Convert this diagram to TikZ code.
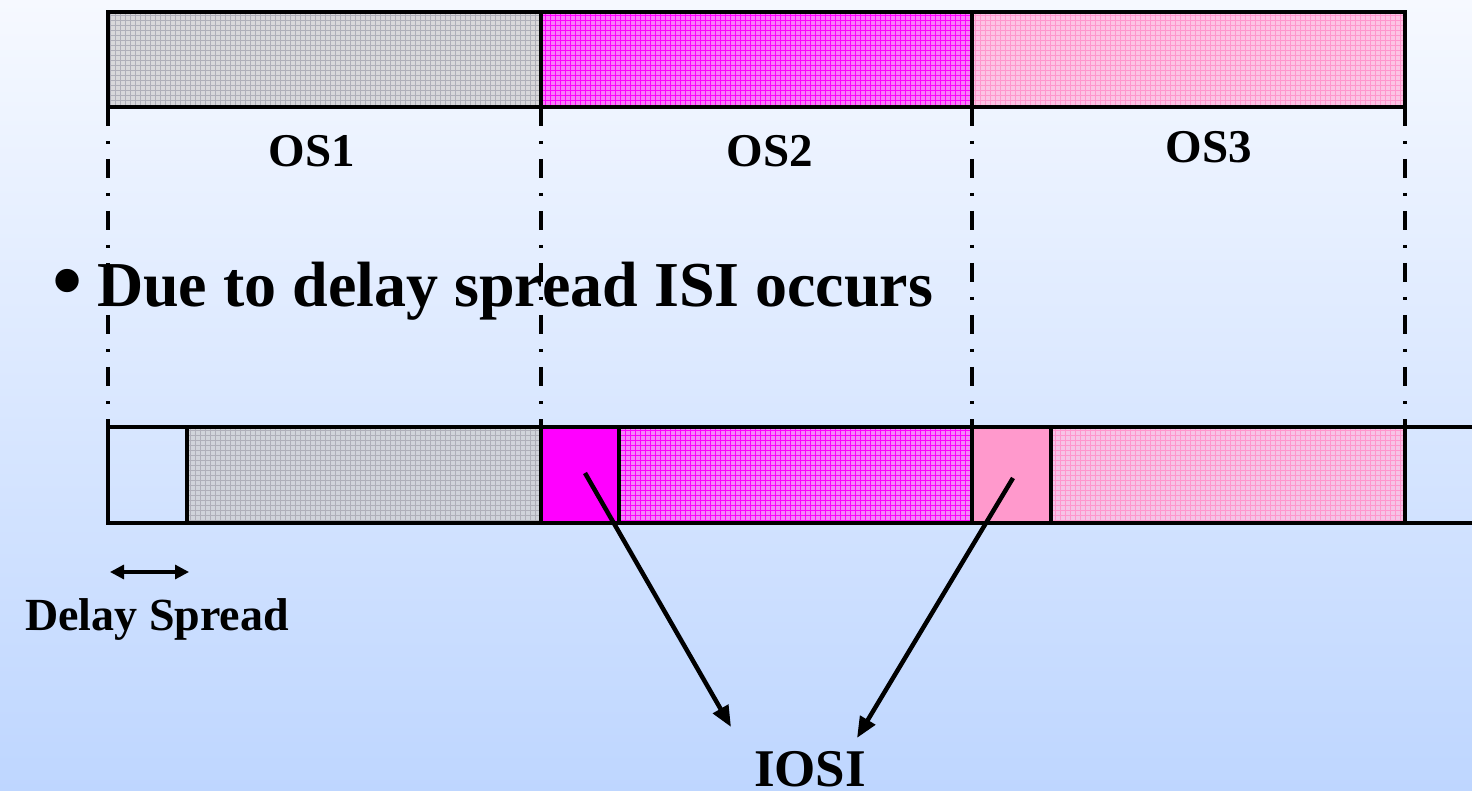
\documentclass[tikz,border=0pt]{standalone}
\usepackage{fontspec}
\setmainfont{Liberation Serif}
\usetikzlibrary{arrows.meta}

\definecolor{bgtop}{RGB}{246,249,255}
\definecolor{bgbot}{RGB}{190,214,255}
\definecolor{grayfill}{RGB}{208,206,206}
\definecolor{grayline}{RGB}{175,175,185}
\definecolor{magfill}{RGB}{248,125,248}
\definecolor{magline}{RGB}{255,0,255}
\definecolor{magsolid}{RGB}{255,0,255}
\definecolor{pinkfill}{RGB}{255,188,224}
\definecolor{pinkline}{RGB}{255,150,205}
\definecolor{pinksolid}{RGB}{255,153,204}

% a cell filled with a fine square mesh
\newcommand\hatchcell[6]{%
  \fill[#5] (#1,#2) rectangle (#3,#4);
  \begin{scope}
    \clip (#1,#2) rectangle (#3,#4);
    \draw[#6, line width=0.8pt, step=5pt] (#1,#2) grid (#3,#4);
  \end{scope}}

\begin{document}
\begin{tikzpicture}[x=1pt,y=-1pt,
  barline/.style={line width=4.5pt},
  guide/.style={line width=4.5pt, dash pattern=on 19pt off 15pt on 3pt off 15pt},
  conn/.style={line width=4.5pt, -{Triangle[length=21pt,width=17pt]}},
  span/.style={line width=3.2pt, {Triangle[length=14pt,width=14pt]}-{Triangle[length=14pt,width=14pt]}},
  oslabel/.style={font=\fontsize{47}{50}\selectfont\bfseries, anchor=base, inner sep=0pt},
  bigtext/.style={font=\fontsize{64}{70}\selectfont\bfseries, anchor=base west, inner sep=0pt}
]
\useasboundingbox (0,0) rectangle (1472,791);
\shade[top color=bgtop, bottom color=bgbot] (0,0) rectangle (1472,791);

% transmitted symbols
\hatchcell{108}{12}{541}{107}{grayfill, fill opacity=0.75}{grayline}
\hatchcell{541}{12}{972}{107}{magfill}{magline}
\hatchcell{972}{12}{1405}{107}{pinkfill, fill opacity=0.85}{pinkline}
\draw[barline] (108,12) rectangle (1405,107);
\draw[barline] (541,12) -- (541,107);
\draw[barline] (972,12) -- (972,107);

\node[oslabel] (os1) at (312,167) {OS1};
\node[oslabel] (os2) at (770,167) {OS2};
\node[oslabel] (os3) at (1209,163) {OS3};

% bullet line
\node[font=\fontsize{86}{90}\selectfont\bfseries, inner sep=0pt] (bul) at (68,289) {•};
\node[bigtext] (title) at (97,307) {Due to delay spread ISI occurs};

% received symbols, shifted by the delay spread
\hatchcell{187}{427}{541}{523}{grayfill, fill opacity=0.75}{grayline}
\fill[magsolid] (541,427) rectangle (619,523);
\hatchcell{619}{427}{972}{523}{magfill, fill opacity=0.9}{magline}
\fill[pinksolid] (972,427) rectangle (1051,523);
\hatchcell{1051}{427}{1405}{523}{pinkfill, fill opacity=0.8}{pinkline}
\draw[barline] (1480,427) -- (108,427) -- (108,523) -- (1480,523);
\foreach \xx in {187,541,619,972,1051,1405}
  \draw[barline] (\xx,427) -- (\xx,523);

% symbol boundaries
\foreach \xx in {108,541,972,1405}
  \draw[guide] (\xx,107) -- (\xx,427);

% delay spread marker
\coordinate (dsL) at (110,572);
\coordinate (dsR) at (189,572);
\draw[span] (dsL) -- (dsR);
\node[font=\fontsize{46}{50}\selectfont\bfseries, anchor=base, inner sep=0pt] (ds) at (157,630) {Delay Spread};

% interference pointers
\node[font=\fontsize{53}{56}\selectfont\bfseries, anchor=base, inner sep=0pt] (iosi) at (810,786) {IOSI};
\coordinate (isiA) at (585,473);
\coordinate (isiB) at (1013,478);
\coordinate (iosiL) at (731,727);
\coordinate (iosiR) at (857,738);
\draw[conn] (isiA) -- (iosiL);
\draw[conn] (isiB) -- (iosiR);
\end{tikzpicture}
\end{document}
